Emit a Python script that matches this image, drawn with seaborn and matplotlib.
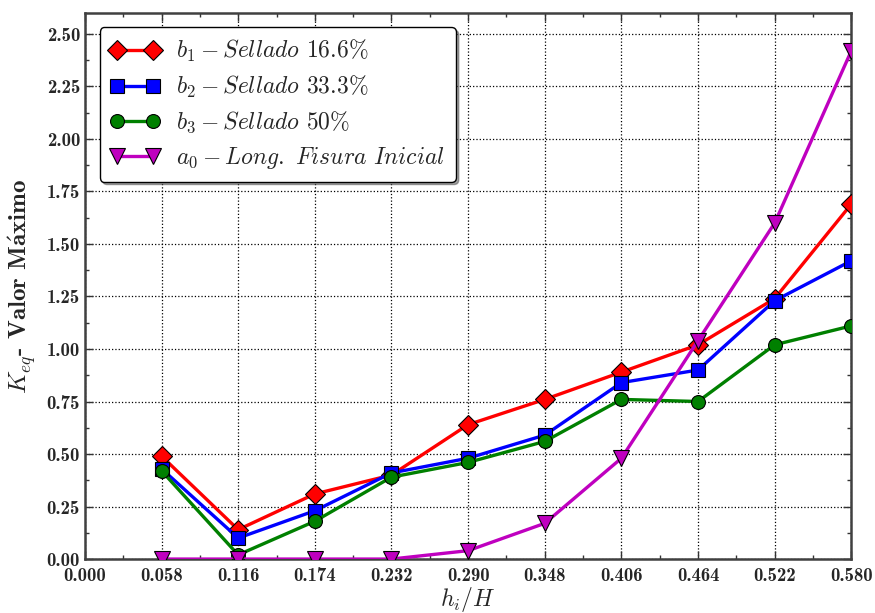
import pandas as pd
import seaborn as sns
import matplotlib.pyplot as plt
from matplotlib.ticker import MultipleLocator, FormatStrFormatter

# datos
hH = [0.058, 0.116, 0.174, 0.232, 0.290, 0.348, 0.406, 0.464, 0.522, 0.580]
b1 = [0.49, 0.14, 0.31, 0.40, 0.64, 0.76, 0.89, 1.02, 1.24, 1.69]
b2 = [0.43, 0.10, 0.23, 0.41, 0.48, 0.59, 0.84, 0.90, 1.23, 1.42]
b3 = [0.42, 0.02, 0.18, 0.39, 0.46, 0.56, 0.76, 0.75, 1.02, 1.11]
a0 = [0.0, 0.0, 0.0, 0.0, 0.04, 0.17, 0.48, 1.04, 1.60, 2.42]

etiquetas = [r'$b_1 - Sellado$ 16.6%', r'$b_2 - Sellado$ 33.3%',
             r'$b_3 - Sellado$ 50%', r'$a_0 - Long.\ Fisura\ Inicial$']
colores = ['#ff0000', '#0000ff', '#008000', '#bf00bf']
marcadores = ['D', 's', 'o', 'v']
tamanos = [10, 10, 10, 11]

sns.set_style("ticks")
plt.rcParams['font.family'] = ['cmr10', 'DejaVu Serif']
plt.rcParams['mathtext.fontset'] = 'cm'
plt.rcParams['axes.unicode_minus'] = False

fig = plt.figure(figsize=(8.75, 6.13), dpi=100)
ax = fig.add_axes([0.097, 0.0880, 0.876, 0.891])

for y, lab, c, m, ms in zip([b1, b2, b3, a0], etiquetas, colores, marcadores, tamanos):
    df = pd.DataFrame({"hH": hH, "K": y})
    sns.lineplot(data=df, x="hH", y="K", ax=ax, color=c, marker=m, markersize=ms,
                 markeredgecolor='black', markeredgewidth=0.8, linewidth=2.4,
                 label=lab, zorder=3)

ax.set_xlim(0, 0.580)
ax.set_ylim(0, 2.6)
ax.xaxis.set_major_locator(MultipleLocator(0.058))
ax.xaxis.set_minor_locator(MultipleLocator(0.029))
ax.yaxis.set_major_locator(MultipleLocator(0.25))
ax.yaxis.set_minor_locator(MultipleLocator(0.125))
ax.xaxis.set_major_formatter(FormatStrFormatter('%.3f'))
ax.yaxis.set_major_formatter(FormatStrFormatter('%.2f'))
ax.grid(True, which='major', color='black', linestyle=':', linewidth=0.9)
ax.tick_params(which='both', direction='in', top=True, right=True, color='#333333')
ax.tick_params(which='major', length=6, width=1, labelsize=13.5)
ax.tick_params(axis='x', which='major', pad=6)
ax.tick_params(which='minor', length=3, width=1)
for lbl in ax.get_xticklabels() + ax.get_yticklabels():
    lbl.set_family('cmb10')
for s in ax.spines.values():
    s.set_linewidth(1.8)
    s.set_color('#404040')

ax.set_xlabel(r'$h_i/H$', fontsize=17, labelpad=0)
ax.set_ylabel(r'$K_{eq}$- Valor M$\mathbf{\acute{a}}$ximo', fontsize=18, family='cmb10',
              labelpad=6)

leg = ax.legend(loc='upper left', bbox_to_anchor=(0.004, 0.995), numpoints=2,
                fancybox=True, shadow=True, framealpha=1, edgecolor='black',
                handlelength=2.1, handletextpad=0.7, fontsize=17, borderpad=0.45,
                labelspacing=0.42)
leg.get_frame().set_linewidth(1.0)

fig.savefig("out.png", dpi=100)
